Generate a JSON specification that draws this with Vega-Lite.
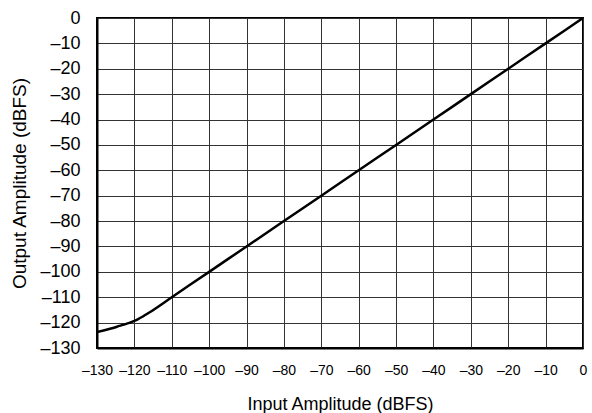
{
  "$schema": "https://vega.github.io/schema/vega-lite/v6.json",
  "width": 486,
  "height": 330,
  "autosize": {"type": "none"},
  "padding": {"left": 97, "top": 18, "right": 9, "bottom": 65},
  "background": "white",
  "config": {
    "view": {"stroke": "black", "strokeWidth": 2},
    "axis": {
      "gridColor": "#333333",
      "gridWidth": 1,
      "gridOpacity": 1,
      "domainColor": "black",
      "domainWidth": 2,
      "ticks": false,
      "tickSize": 0,
      "labelColor": "black",
      "titleColor": "black",
      "titleFont": "Liberation Sans",
      "titleFontWeight": "normal"
    }
  },
  "data": {
    "values": [
      {"x": -130, "y": -123.7},
      {"x": -128, "y": -123.0},
      {"x": -126, "y": -122.2},
      {"x": -124, "y": -121.3},
      {"x": -122, "y": -120.4},
      {"x": -121, "y": -119.9},
      {"x": -120, "y": -119.3},
      {"x": -119, "y": -118.6},
      {"x": -118, "y": -117.8},
      {"x": -117, "y": -116.9},
      {"x": -116, "y": -116.0},
      {"x": -110, "y": -110.0},
      {"x": -100, "y": -100.0},
      {"x": -90, "y": -90.0},
      {"x": -80, "y": -80.0},
      {"x": -70, "y": -70.0},
      {"x": -60, "y": -60.0},
      {"x": -50, "y": -50.0},
      {"x": -40, "y": -40.0},
      {"x": -30, "y": -30.0},
      {"x": -20, "y": -20.0},
      {"x": -10, "y": -10.0},
      {"x": 0, "y": 0.0}
    ]
  },
  "mark": {"type": "line", "color": "black", "strokeWidth": 2.5, "clip": true, "interpolate": "monotone"},
  "encoding": {
    "x": {
      "field": "x",
      "type": "quantitative",
      "scale": {"domain": [-130, 0], "nice": false, "zero": false},
      "axis": {
        "title": "Input Amplitude (dBFS)",
        "titleFontSize": 18,
        "values": [-130, -120, -110, -100, -90, -80, -70, -60, -50, -40, -30, -20, -10, 0],
        "labelExpr": "replace(datum.label, '\u2212', '\u2013')",
        "labelFont": "Liberation Sans",
        "labelFontSize": 14,
        "labelPadding": 15,
        "labelBaseline": "top",
        "labelFlush": false,
        "labelOverlap": false,
        "titleX": 243,
        "titleY": 56,
        "titleBaseline": "middle",
        "titleAlign": "center"
      }
    },
    "y": {
      "field": "y",
      "type": "quantitative",
      "scale": {"domain": [-130, 0], "nice": false, "zero": false},
      "axis": {
        "title": "Output Amplitude (dBFS)",
        "titleFontSize": 19,
        "values": [-130, -120, -110, -100, -90, -80, -70, -60, -50, -40, -30, -20, -10, 0],
        "labelExpr": "replace(datum.label, '\u2212', '\u2013')",
        "labelFont": "Liberation Sans",
        "labelFontSize": 18,
        "labelPadding": 17,
        "labelFlush": false,
        "labelOverlap": false,
        "titleX": -78,
        "titleY": 165,
        "titleAngle": -90,
        "titleBaseline": "middle",
        "titleAlign": "center"
      }
    }
  }
}
